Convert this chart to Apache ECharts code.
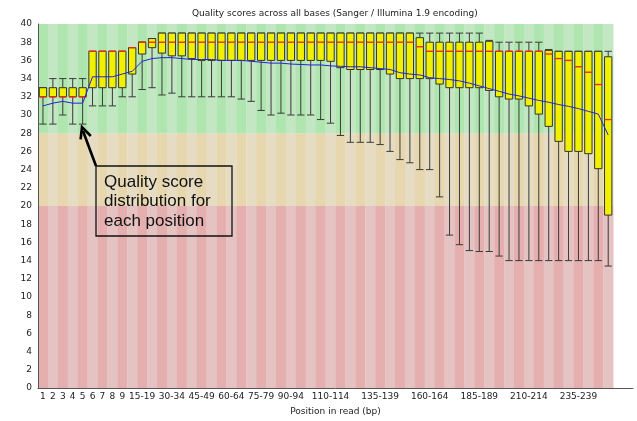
<!DOCTYPE html>
<html>
<head>
<meta charset="utf-8">
<script src="https://cdn.jsdelivr.net/npm/echarts@6/dist/echarts.min.js"></script>
<style>
html,body{margin:0;padding:0;background:#ffffff;}
#chart{width:637px;height:421px;}
</style>
</head>
<body>
<div id="chart"></div>
<script>
// ---- data ----
const categories = ['1','2','3','4','5','6','7','8','9',
  '10-14','15-19','20-24','25-29','30-34','35-39','40-44','45-49','50-54','55-59',
  '60-64','65-69','70-74','75-79','80-84','85-89','90-94','95-99','100-104','105-109',
  '110-114','115-119','120-124','125-129','130-134','135-139','140-144','145-149','150-154','155-159',
  '160-164','165-169','170-174','175-179','180-184','185-189','190-194','195-199','200-204','205-209',
  '210-214','215-219','220-224','225-229','230-234','235-239','240-244','245-249','250-251'];

const shownLabels = ['1','2','3','4','5','6','7','8','9','15-19','30-34','45-49','60-64','75-79',
  '90-94','110-114','135-139','160-164','185-189','210-214','235-239'];

const lowerWhisker = [29,29,30,29,29, 31,31,31,32, 32,
  32.8,33,32.2,32.4,32,32,32,32,32,32,
  31.75,31.5,30.5,30,30.2,30,30,30,29.5,29.1,
  27.75,27,27,27,26.75,26,25.1,24.75,24,24,
  21,16.8,15.75,15.1,15,15,14.5,14,14,14,
  14,14,14,14,14,14,14,13.4];

const lowerQuartile = [32,32,32,32,32, 33,33,33,33, 34.5,
  36.7,37.4,36.8,36.5,36.5,36.2,36,36,36,36,
  36,36,36,36,36,36,36,36,36,35.9,
  35.2,35,35,35,35,34.5,34,34,34,34,
  33.4,33,33,33,33,32.7,32,31.75,31.75,31,
  30.1,28.75,27.1,26,26,25.75,24.1,19];

const medianQuality = [32,32,32,32,32, 37,37,37,37, 37.4,
  38,38,38,38,38,38,38,38,38,38,
  38,38,38,38,38,38,38,38,38,38,
  38,38,38,38,38,38,38,38,37.5,37,
  37,37,37,37,37,37,37,37,37,37,
  37,36.7,36.2,36,35.3,34.7,33.35,29.5];

const upperQuartile = [33,33,33,33,33, 37,37,37,37, 37.4,
  38,38.4,39,39,39,39,39,39,39,39,
  39,39,39,39,39,39,39,39,39,39,
  39,39,39,39,39,39,39,39,38.5,38,
  38,38,38,38,38,38.1,37,37,37,37,
  37,37.1,37,37,37,37,37,36.4];

const upperWhisker = [33,34,34,34,34, 37,37,37,37, 37.4,
  38,38.4,39,39,39,39,39,39,39,39,
  39,39,39,39,39,39,39,39,39,39,
  39,39,39,39,39,39,39,39,39,39,
  39,39,39,39,39,38.2,38,38,38,38,
  38,37.2,37,37,37,37,37,37];

const meanQuality = [31.0,31.3,31.5,31.3,31.3, 34.2,34.2,34.2,34.5, 34.8,
  35.9,36.2,36.3,36.3,36.2,36.1,36.1,36.1,36.0,36.0,
  36.0,35.9,35.8,35.7,35.7,35.6,35.55,35.5,35.5,35.4,
  35.35,35.3,35.3,35.2,35.1,35.0,34.65,34.5,34.4,34.1,
  34.0,33.9,33.75,33.5,33.2,32.9,32.6,32.3,32.1,31.85,
  31.6,31.4,31.15,30.95,30.7,30.4,30.1,27.8];

const yTicks = {min: 0, max: 40, step: 2};
const zoneBounds = [0, 20, 28, 40];

// ---- styles ----
const zoneLight = ['rgb(230,195,195)', 'rgb(230,220,195)', 'rgb(195,230,195)'];
const zoneDark  = ['rgb(230,175,175)', 'rgb(230,215,175)', 'rgb(175,230,175)'];

const chart = echarts.init(document.getElementById('chart'), null, {renderer: 'canvas'});

const axisCats = categories.concat(['', '']);

const option = {
  animation: false,
  backgroundColor: '#ffffff',
  title: {
    text: 'Quality scores across all bases (Sanger / Illumina 1.9 encoding)',
    left: 192, top: 9, padding: 0,
    textStyle: {fontFamily: 'DejaVu Sans', fontSize: 9, fontWeight: 'normal', color: '#222'}
  },
  grid: {left: 38, right: 4, top: 24, bottom: 28, containLabel: false},
  xAxis: {
    type: 'category',
    data: axisCats,
    boundaryGap: true,
    name: 'Position in read (bp)',
    nameLocation: 'middle',
    nameGap: 19,
    nameTextStyle: {fontFamily: 'DejaVu Sans', fontSize: 9, color: '#222'},
    axisLine: {show: true, lineStyle: {color: '#555', width: 1}},
    axisTick: {show: false},
    splitLine: {show: false},
    axisLabel: {
      interval: function (index, value) { return shownLabels.indexOf(value) >= 0; },
      fontFamily: 'DejaVu Sans', fontSize: 9, color: '#222', margin: 4
    }
  },
  yAxis: {
    type: 'value',
    min: yTicks.min, max: yTicks.max, interval: yTicks.step,
    axisLine: {show: true, lineStyle: {color: '#555', width: 1}},
    axisTick: {show: false},
    splitLine: {show: false},
    axisLabel: {fontFamily: 'DejaVu Sans', fontSize: 9, color: '#222', margin: 6}
  },
  series: [
    {
      type: 'custom',
      silent: true,
      z: 0,
      data: categories.map(function (c, i) { return [i, yTicks.max]; }),
      encode: {x: 0, y: 1},
      renderItem: function (params, api) {
        const i = api.value(0);
        const w = api.size([1, 0])[0];
        const children = [];
        for (let k = 0; k < zoneBounds.length - 1; k++) {
          const p0 = api.coord([i, zoneBounds[k]]);
          const p1 = api.coord([i, zoneBounds[k + 1]]);
          children.push({
            type: 'rect',
            shape: {x: p0[0] - w / 2, y: p1[1], width: w + 0.3, height: p0[1] - p1[1]},
            style: {fill: (i % 2 === 0) ? zoneDark[k] : zoneLight[k], stroke: null}
          });
        }
        return {type: 'group', children: children};
      }
    },
    {
      type: 'custom',
      silent: true,
      z: 2,
      data: categories.map(function (c, i) {
        return [i, lowerWhisker[i], lowerQuartile[i], medianQuality[i], upperQuartile[i], upperWhisker[i]];
      }),
      encode: {x: 0, y: [1, 2, 3, 4, 5]},
      renderItem: function (params, api) {
        const i = api.value(0);
        const w = api.size([1, 0])[0];
        const bw = w * 0.74;
        const pLow = api.coord([i, api.value(1)]);
        const pQ1 = api.coord([i, api.value(2)]);
        const pMed = api.coord([i, api.value(3)]);
        const pQ3 = api.coord([i, api.value(4)]);
        const pHigh = api.coord([i, api.value(5)]);
        const cx = pLow[0];
        const wStyle = {stroke: '#3a3a3a', lineWidth: 1};
        return {
          type: 'group',
          children: [
            {type: 'line', shape: {x1: cx, y1: pLow[1], x2: cx, y2: pQ1[1]}, style: wStyle},
            {type: 'line', shape: {x1: cx, y1: pQ3[1], x2: cx, y2: pHigh[1]}, style: wStyle},
            {type: 'line', shape: {x1: cx - bw / 2, y1: pLow[1], x2: cx + bw / 2, y2: pLow[1]}, style: wStyle},
            {type: 'line', shape: {x1: cx - bw / 2, y1: pHigh[1], x2: cx + bw / 2, y2: pHigh[1]}, style: wStyle},
            {type: 'rect', shape: {x: cx - bw / 2, y: pQ3[1], width: bw, height: pQ1[1] - pQ3[1]},
             style: {fill: '#f0f000', stroke: '#333333', lineWidth: 1}},
            {type: 'line', shape: {x1: cx - bw / 2, y1: pMed[1], x2: cx + bw / 2, y2: pMed[1]},
             style: {stroke: '#e63010', lineWidth: 1.4}}
          ]
        };
      }
    },
    {
      type: 'line',
      name: 'Mean',
      data: meanQuality,
      z: 5,
      symbol: 'none',
      smooth: false,
      lineStyle: {color: '#2424d6', width: 1},
      silent: true
    }
  ],
  graphic: [
    {
      type: 'rect', z: 100,
      shape: {x: 96, y: 166, width: 136, height: 70},
      style: {fill: null, stroke: '#111', lineWidth: 1.3}
    },
    {
      type: 'text', z: 100,
      x: 104, y: 172,
      style: {
        text: 'Quality score\ndistribution for\neach position',
        fontFamily: 'Liberation Sans', fontSize: 17, lineHeight: 19.7,
        fill: '#111', textAlign: 'left', textVerticalAlign: 'top'
      }
    },
    {
      type: 'line', z: 100,
      shape: {x1: 96, y1: 166, x2: 83, y2: 131},
      style: {stroke: '#000', lineWidth: 2.6}
    },
    {
      type: 'polyline', z: 100,
      shape: {points: [[90.8, 136.0], [82, 127], [80.6, 139.4]]},
      style: {stroke: '#000', lineWidth: 2.6, fill: null, lineJoin: 'miter'}
    }
  ]
};

chart.setOption(option);
</script>
</body>
</html>
